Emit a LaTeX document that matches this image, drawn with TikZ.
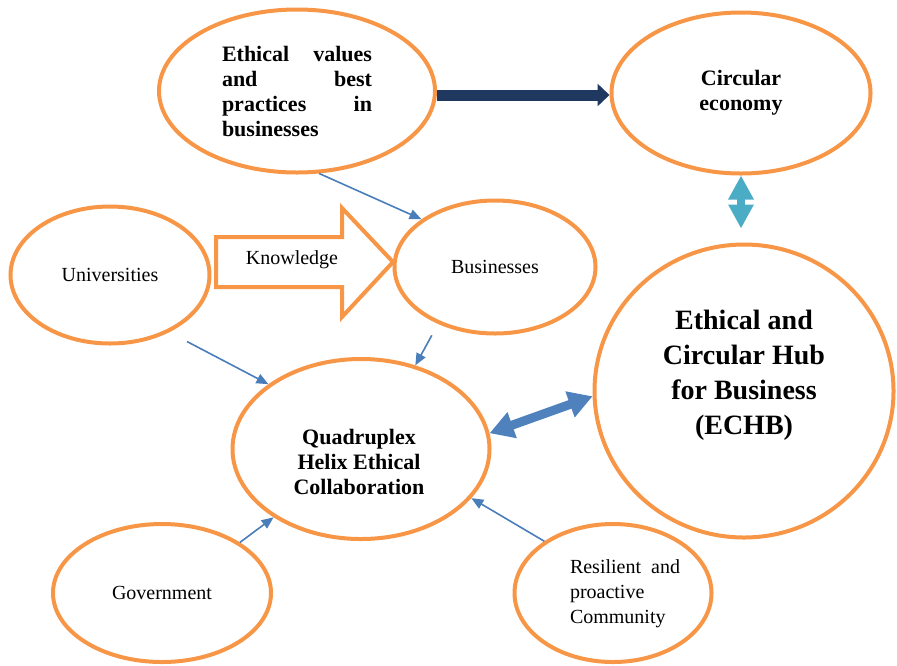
\documentclass[tikz,border=0pt]{standalone}
\usepackage{fontspec}
\setmainfont{Liberation Serif}
\usepackage{tikz}
\usetikzlibrary{arrows.meta,shapes.geometric,positioning}
\definecolor{hexorange}{RGB}{247,150,70}
\definecolor{linkblue}{RGB}{74,126,187}
\definecolor{hubblue}{RGB}{79,129,189}
\definecolor{hubcyan}{RGB}{75,172,198}
\definecolor{hubnavy}{RGB}{31,56,96}
\tikzstyle{bubble} = [ellipse, draw=hexorange, line width=2pt, inner sep=0pt, align=center]
\tikzstyle{thinarrow} = [-{Triangle[length=6pt,width=5pt]}, line width=0.8pt, color=linkblue]
\tikzstyle{boldtext} = [font=\fontsize{11}{12.5}\selectfont\bfseries]
\tikzstyle{plaintext} = [font=\fontsize{10}{12.5}\selectfont]

\begin{document}
\begin{tikzpicture}[x=0.5pt, y=-0.5pt]
\useasboundingbox (0,0) rectangle (897,665);

% Ellipses
\node[bubble, boldtext, minimum width=138pt, minimum height=81.5pt, text width=75pt, align=left] (ethic) at (297,91)
  {Ethical\hfill values\\and\hfill best\\practices\hfill in\\businesses};
\node[bubble, boldtext, minimum width=129.5pt, minimum height=80.5pt] (circ) at (741,93) {Circular\\economy};
\node[bubble, plaintext, minimum width=99.5pt, minimum height=68.5pt] (univ) at (110,275) {Universities};
\node[bubble, plaintext, minimum width=100.5pt, minimum height=66.5pt] (busi) at (495,267) {Businesses};
\node[bubble, minimum width=128.5pt, minimum height=90pt] (quad) at (361,449) {};
\node[bubble, plaintext, minimum width=109pt, minimum height=69pt] (gov) at (162,593) {Government};
\node[bubble, minimum width=98.5pt, minimum height=69pt] (resi) at (613,593) {};
\node[bubble, minimum width=149.5pt, minimum height=146.5pt] (echb) at (744,391) {};

% Texts set off centre
\node[boldtext, align=center] (quadtext) at (359,462) {Quadruplex\\Helix Ethical\\Collaboration};
\node[font=\fontsize{14}{17.5}\selectfont\bfseries, align=center] (echbtext) at (744,375)
  {Ethical and\\Circular Hub\\for Business\\(ECHB)};
\node[plaintext, text width=55pt, align=left] (resitext) at (625,594) {Resilient\hfill and\\proactive\\Community};

% Knowledge block arrow
\draw[hexorange, line width=2pt, line join=miter] (216,237) -- (342,237) -- (342,208) -- (393,262)
  -- (342,317) -- (342,287) -- (216,287) -- cycle;
\node[plaintext] (know) at (292,260) {Knowledge};

% Thick arrows
\draw[hubnavy, line width=5.5pt, -{Triangle[length=6pt,width=11pt]}]
  ([yshift=-2pt]ethic.east) -- ([yshift=-2pt]ethic.east -| circ.west);
\draw[hubcyan, line width=4pt, {Triangle[length=12pt,width=12pt]}-{Triangle[length=12pt,width=12pt]}, shorten >=7pt]
  (circ.south) -- (circ.south |- echb.north);
\draw[hubblue, line width=4.5pt, {Triangle[length=12pt,width=13pt]}-{Triangle[length=12pt,width=13pt]}]
  (quad.7.5) -- (echb.182);

% Thin arrows
\draw[thinarrow] (ethic.-75) -- (busi.147);
\draw[thinarrow, shorten <=10pt] (univ.-44.5) -- (quad.145);
\draw[thinarrow, shorten <=6.5pt] (busi.-135) -- (quad.57);
\draw[thinarrow] (gov.33) -- (quad.-142);
\draw[thinarrow] (resi.143) -- (quad.-24);
\end{tikzpicture}
\end{document}
